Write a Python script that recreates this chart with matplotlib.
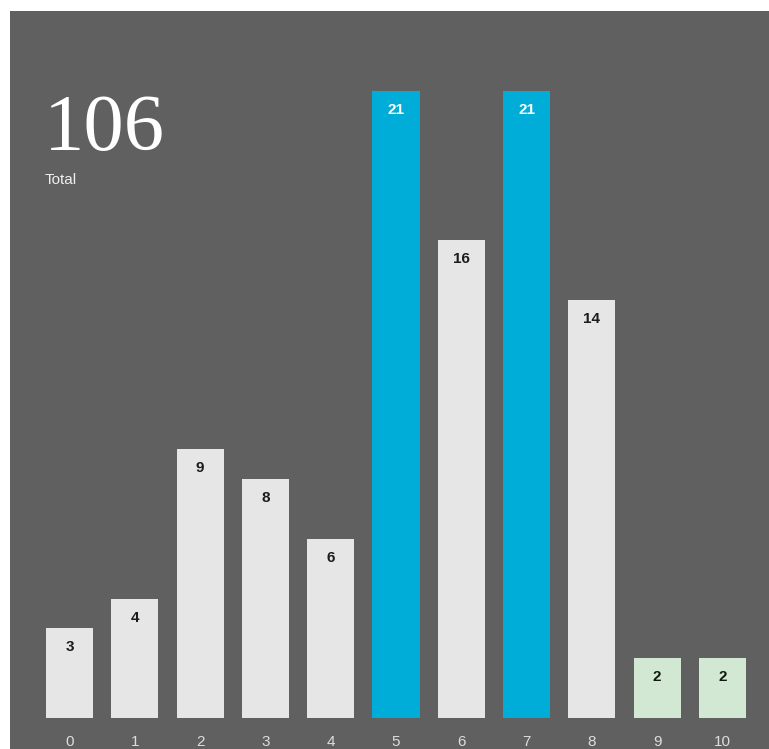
import matplotlib

matplotlib.use("Agg")
import matplotlib.pyplot as plt
from matplotlib.patches import Rectangle

categories = ["0", "1", "2", "3", "4", "5", "6", "7", "8", "9", "10"]
counts = [3, 4, 9, 8, 6, 21, 16, 21, 14, 2, 2]
groups = ["base", "base", "base", "base", "base", "peak", "base", "peak", "base", "low", "low"]
total = sum(counts)

BG = "#606060"
COLORS = {"base": "#e6e6e6", "peak": "#00acd8", "low": "#d3e8d2"}
LABEL_COLORS = {"base": "#1c1c1c", "peak": "#ffffff", "low": "#111a11"}

W, H, DPI = 769, 749, 100
fig = plt.figure(figsize=(W / DPI, H / DPI), dpi=DPI, facecolor="white")

# dark panel behind everything
fig.add_artist(
    Rectangle((10 / W, 0), 1 - 10 / W, 1 - 11 / H, transform=fig.transFigure,
              facecolor=BG, edgecolor="none", zorder=-5)
)

ax = fig.add_axes([36.85 / W, 31 / H, 718.3 / W, 627 / H])
ax.set_facecolor("none")

x = list(range(len(categories)))
bars = ax.bar(x, counts, width=0.72, color=[COLORS[g] for g in groups], zorder=2)

for xi, v, g in zip(x, counts, groups):
    ax.annotate(str(v), (xi, v), xytext=(0, -19), textcoords="offset pixels",
                ha="center", va="center", fontsize=11, fontweight="bold",
                family="Liberation Sans", color=LABEL_COLORS[g], zorder=3)

ax.set_xlim(-0.5, len(categories) - 0.5)
ax.set_ylim(0, max(counts))
ax.set_xticks(x)
ax.set_xticklabels(categories, family="Liberation Sans", fontsize=11, color="#dddddd")
ax.tick_params(axis="x", length=0, pad=12)
ax.set_yticks([])
for spine in ax.spines.values():
    spine.set_visible(False)

fig.text(44 / W, 1 - 150 / H, str(total), family="Liberation Serif", fontsize=58,
         color="white", ha="left", va="baseline")
fig.text(45 / W, 1 - 180 / H, "Total", family="Liberation Sans", fontsize=11,
         color="#eeeeee", ha="left", va="center")

fig.savefig("out.png", dpi=DPI, facecolor="white")
